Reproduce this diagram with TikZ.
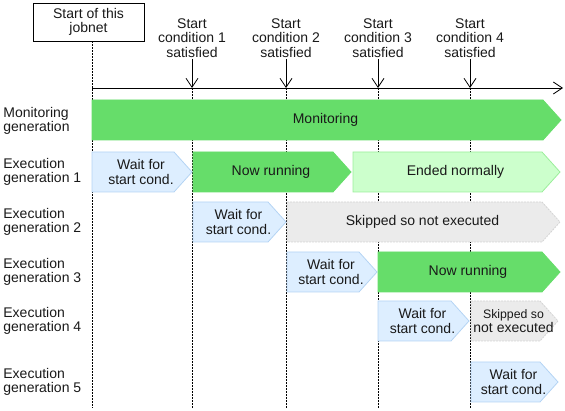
\documentclass[tikz,border=0pt]{standalone}
\usepackage{fontspec}
\setmainfont{Liberation Sans}
\usetikzlibrary{arrows.meta,positioning}

\definecolor{rungreen}{HTML}{66DD6A}
\definecolor{waitblue}{HTML}{DDEEFF}
\definecolor{waitline}{HTML}{B4D4F4}
\definecolor{endgreen}{HTML}{CCFFCC}
\definecolor{endline}{HTML}{9BEE9B}
\definecolor{skipgray}{HTML}{EBEBEB}
\definecolor{skipline}{HTML}{D4D4D4}

% one bar of the time chart: name, style, left x, tip x, top y, text
\newcommand{\phase}[6]{%
  \draw[#2] (#3,#5) -- ({#4-18},#5) -- (#4,{#5+20}) -- ({#4-18},{#5+40}) -- (#3,{#5+40}) -- cycle;
  \node[txt] (#1) at ({(#3+#4)/2-1},{#5+20}) {#6};
}

\begin{document}
\begin{tikzpicture}[x=1pt, y=-1pt, line width=0.8pt,
    every node/.style={font=\fontsize{14}{14.5}\selectfont, align=center, text=black!90},
    txt/.style={inner sep=0pt},
    lbl/.style={anchor=west, align=left, inner sep=0pt},
    cond/.style={inner sep=1pt},
    tip/.style={-{Straight Barb[length=9pt,width=12pt]}},
    grid/.style={line width=0.7pt, dash pattern=on 2pt off 1pt},
    run/.style={fill=rungreen, draw=rungreen},
    wait/.style={fill=waitblue, draw=waitline},
    ended/.style={fill=endgreen, draw=endline},
    skip/.style={fill=skipgray, draw=skipline, dash pattern=on 2pt off 1pt}]
  \useasboundingbox (0,0) rectangle (565,411);

  \node[draw, minimum width=111, minimum height=38] (start) at (88.5,22) {Start of this\\jobnet};
  \coordinate (o) at (92,88);
  \coordinate (end) at (563,88);
  \coordinate (bot) at (92,408);

  % time axis and grid
  \draw[grid] (start.south -| o) -- (bot);
  \draw[tip] (o) -- (end);
  \foreach \x/\n in {192/1, 286/2, 378/3, 470/4} {
    \node[cond] (c\n) at (\x,38) {Start\\condition \n\\satisfied};
    \coordinate (t\n) at (\x,88);
    \draw[grid] (t\n) -- (t\n |- bot);
    \draw[tip] (c\n) -- (t\n);
  }

  % row labels
  \node[lbl] (gm) at (3,121) {Monitoring\\generation};
  \node[lbl] (g1) at (3,172) {Execution\\generation 1};
  \node[lbl] (g2) at (3,222) {Execution\\generation 2};
  \node[lbl] (g3) at (3,272) {Execution\\generation 3};
  \node[lbl] (g4) at (3,321) {Execution\\generation 4};
  \node[lbl] (g5) at (3,382) {Execution\\generation 5};

  % bars
  \phase{mon}{run}{92}{561}{100}{Monitoring}
  \phase{w1}{wait}{92}{192}{152}{Wait for\\start cond.}
  \phase{r1}{run}{193}{351}{152}{Now running}
  \phase{e1}{ended}{353}{560}{152}{Ended normally}
  \phase{w2}{wait}{193}{286}{202}{Wait for\\start cond.}
  \phase{s2}{skip}{287}{560}{202}{Skipped so not executed}
  \phase{w3}{wait}{287}{377}{252}{Wait for\\start cond.}
  \phase{r3}{run}{378}{560}{252}{Now running}
  \phase{w4}{wait}{378}{469}{301}{Wait for\\start cond.}
  \phase{s4}{skip}{471}{558}{301}{\fontsize{12.3}{13}\selectfont Skipped so\\not executed}
  \phase{w5}{wait}{471}{558}{362}{Wait for\\start cond.}
\end{tikzpicture}
\end{document}
